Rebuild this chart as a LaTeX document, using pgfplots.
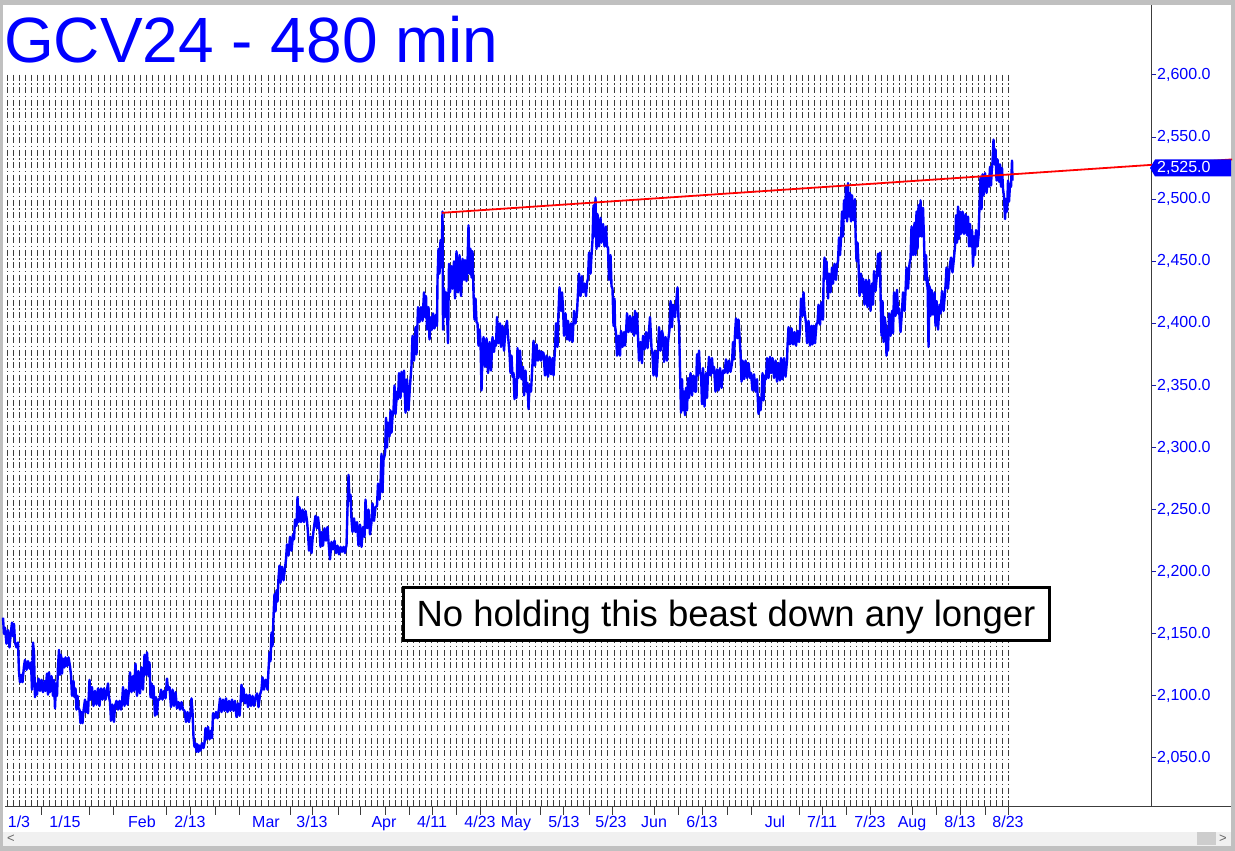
\documentclass[border=0pt]{standalone}
\usepackage{pgfplots}
\pgfplotsset{compat=1.18}
\usepackage{fontspec}
\setmainfont{Liberation Sans}
\definecolor{chartblue}{RGB}{0,0,255}
\definecolor{gridgray}{RGB}{60,60,60}
\definecolor{framegray}{RGB}{192,192,192}
\definecolor{scrollgray}{RGB}{240,240,240}
\definecolor{trendred}{RGB}{255,0,0}
\begin{document}
\begin{tikzpicture}[x=1bp,y=1bp]
\useasboundingbox (0,0) rectangle (1235,851);
\fill[framegray] (0,0) rectangle (1235,851);
\fill[white] (3,5) rectangle (1231,846);
\fill[scrollgray] (3,5) rectangle (1231,19);
\node[text=gray!80!black] at (11,12) {\fontsize{13bp}{13bp}\selectfont <};
\fill[framegray!80] (1197,6) rectangle (1216,19);
\node[text=gray!80!black] at (1223,12) {\fontsize{13bp}{13bp}\selectfont >};
% vertical grid
\foreach \k in {0,...,165} {
  \draw[gridgray, line width=1bp, dash pattern=on 6bp off 2.5bp on 1.5bp off 2.5bp] ({7+6.07*\k},776) -- ({7+6.07*\k},45);
}
% title
\node[anchor=base west, inner sep=0pt, text=chartblue] at (4,788) {\fontsize{64bp}{64bp}\selectfont GCV24 - 480 min};
\begin{axis}[
  at={(5bp,44bp)}, anchor=south west,
  scale only axis, width=1146bp, height=802bp,
  xmin=5, xmax=1151, ymin=2010.54, ymax=2656.37,
  clip=false,
  axis x line*=bottom, axis y line*=right,
  axis line style={draw=gridgray, line width=1bp},
  tick align=outside,
  major tick length=5bp,
  xtick={19,65,142,190,266,312,384,432,480,516,564,611,654,702,775,822,870,912,960,1008},
  xticklabels={1/3,1/15,Feb,2/13,Mar,3/13,Apr,4/11,4/23,May,5/13,5/23,Jun,6/13,Jul,7/11,7/23,Aug,8/13,8/23},
  xtick style={draw=none},
  xticklabel style={text=chartblue, font=\fontsize{16bp}{17bp}\selectfont, anchor=base, yshift=-15.5bp, inner sep=0pt},
  extra x ticks={41,89,113,166,190,215,239,290,312,338,360,385,409,432,456,480,516,540,563,589,612,654,678,702,727,751,799,822,846,870,912,936,960,985,1008},
  extra x tick labels={},
  extra x tick style={major tick length=8bp, xtick style={draw=gridgray, line width=1bp}},
  ytick={2050,2100,2150,2200,2250,2300,2350,2400,2450,2500,2550,2600},
  yticklabels={{2,050.0},{2,100.0},{2,150.0},{2,200.0},{2,250.0},{2,300.0},{2,350.0},{2,400.0},{2,450.0},{2,500.0},{2,550.0},{2,600.0}},
  ytick style={draw=chartblue!60!gridgray, line width=1bp},
  yticklabel style={text=chartblue, font=\fontsize{16bp}{17bp}\selectfont, anchor=west, inner sep=0pt, xshift=1bp},
]
\addplot[chartblue, line width=2.4bp, line join=round, mark=none] coordinates {
(3,2163)(4,2150)(5,2155)(6.5,2142)(8,2153)(9.5,2139)(11,2152)(12,2159)(13,2148)(14,2158)(15,2143)(16.5,2139)(18,2143)(19,2119)(20,2111)(21.5,2117)(22.5,2111)(24,2124)(25,2129)(26.5,2121)(28,2128)(29.5,2122)(31,2127)(32,2105)(33,2143)(34,2135)(35,2099)(36,2110)(37,2101)(38.5,2114)(40,2104)(41.5,2113)(43,2103)(44.5,2112)(45.5,2104)(47,2118)(48,2101)(49,2119)(50,2103)(51.5,2116)(53,2100)(54,2113)(55,2090)(56,2110)(57,2100)(58,2124)(59,2137)(60,2117)(61,2133)(62,2118)(63,2130)(64.5,2123)(65.5,2131)(67,2124)(68.5,2131)(70,2124)(71,2117)(72,2100)(73.5,2112)(74.5,2099)(75.5,2106)(76.5,2089)(77.5,2100)(78.5,2090)(79.5,2089)(80.5,2078)(81.5,2087)(82.5,2078)(83.5,2088)(85,2097)(86,2087)(87,2095)(88,2086)(89.5,2113)(90.5,2097)(92,2107)(93.5,2092)(95,2104)(96.5,2093)(98,2106)(99.5,2092)(101,2106)(102.5,2097)(104,2106)(105.5,2097)(107,2105)(108,2110)(109,2099)(110,2095)(111,2080)(112.5,2093)(114,2079)(115,2092)(116.5,2096)(118,2089)(119.5,2096)(121,2089)(122,2094)(123,2107)(124.5,2092)(126,2105)(127.5,2093)(129,2105)(130,2119)(131.5,2103)(133,2116)(134,2104)(135.5,2126)(137,2100)(138.5,2120)(140,2102)(141.5,2123)(143,2105)(144.5,2133)(146,2117)(147,2135)(148.5,2116)(149.5,2127)(150.5,2099)(151.5,2110)(152.5,2098)(153.5,2108)(155,2084)(156,2099)(157,2085)(158,2097)(159.5,2097)(161,2105)(162.5,2097)(164,2104)(165.5,2098)(167,2114)(168,2105)(169.5,2107)(171,2091)(172.5,2105)(174,2092)(175.5,2103)(177,2090)(178.5,2095)(180,2089)(181.5,2095)(183,2089)(184.5,2088)(186,2079)(187.5,2087)(189,2079)(190.5,2086)(191.5,2098)(192.5,2087)(193.5,2067)(194.5,2059)(195.5,2062)(196.5,2055)(197.5,2061)(198.5,2055)(199.5,2060)(200.5,2056)(202,2062)(203.5,2058)(204.5,2062)(205.5,2074)(206.5,2065)(208,2075)(209.5,2065)(211,2072)(212,2066)(213,2086)(214.5,2082)(216,2087)(217.5,2082)(219,2090)(220,2098)(221.5,2087)(223,2097)(224.5,2088)(226,2098)(227.5,2087)(229,2096)(230.5,2088)(232,2097)(233.5,2088)(235,2096)(236.5,2083)(238,2094)(239.5,2084)(240.5,2094)(241.5,2109)(242.5,2096)(243.5,2106)(245,2094)(246.5,2101)(248,2091)(249.5,2101)(251,2092)(252.5,2100)(254,2092)(255.5,2099)(257,2102)(258.5,2091)(260,2101)(261.5,2105)(262.5,2115)(264,2105)(265.5,2113)(266.5,2112)(267.5,2105)(268.5,2121)(269.5,2135)(270.5,2128)(271.5,2151)(272.5,2140)(273.5,2164)(274.5,2182)(275.5,2168)(276.5,2185)(277.5,2176)(278.5,2195)(279.5,2205)(280.5,2191)(282,2204)(283.5,2193)(285,2203)(286,2210)(287,2222)(288.5,2213)(290,2228)(291.5,2217)(293,2230)(294,2226)(295,2242)(296.5,2237)(297.5,2260)(298.5,2240)(299.5,2252)(301,2240)(302.5,2250)(304,2240)(305.5,2249)(307,2241)(308,2231)(309,2217)(310.5,2228)(311.5,2215)(312.5,2226)(314,2236)(315.5,2245)(317,2235)(318,2244)(319.5,2233)(320.5,2220)(322,2232)(323,2221)(324.5,2235)(326,2225)(327.5,2236)(328.5,2224)(330,2210)(331.5,2224)(333,2218)(334.5,2225)(336,2215)(337.5,2221)(339,2214)(340.5,2220)(342,2216)(343.5,2220)(345,2215)(346,2220)(346.5,2221)(347.5,2251)(348.5,2278)(349.5,2257)(350.5,2262)(351.5,2242)(352.5,2232)(354,2243)(355.5,2232)(357,2240)(358.5,2221)(360,2238)(361.5,2220)(363,2236)(364.5,2228)(365.5,2258)(367,2235)(368.5,2250)(370,2230)(371.5,2240)(372.5,2255)(374,2241)(375.5,2252)(377,2253)(378,2271)(379.5,2258)(380.5,2270)(381.5,2295)(382.5,2264)(383.5,2290)(385,2295)(386,2324)(387,2300)(388,2320)(389.5,2309)(390.5,2330)(391.5,2312)(392.5,2325)(393.5,2330)(394.5,2350)(395.5,2327)(397,2345)(398,2339)(399,2360)(400.5,2340)(401.5,2361)(403,2345)(404,2362)(405.5,2328)(407,2355)(408.5,2330)(410,2350)(411.5,2366)(412.5,2390)(414,2370)(415.5,2397)(416.5,2375)(418,2413)(419.5,2401)(421,2413)(422.5,2402)(424,2425)(425,2405)(426,2422)(427,2395)(428.5,2413)(429.5,2387)(431,2405)(432,2395)(433,2408)(434.5,2396)(436,2407)(437,2398)(437.5,2435)(438.5,2460)(439.5,2440)(440.5,2467)(441.5,2445)(442.5,2490)(443,2395)(444,2428)(445,2405)(446,2425)(447,2410)(448,2384)(449,2448)(450,2425)(451.5,2446)(452.5,2428)(454,2450)(455,2420)(456.5,2458)(458,2425)(459.5,2455)(461,2422)(462.5,2452)(464,2435)(465,2451)(466.5,2434)(467.5,2448)(468.5,2479)(469.5,2440)(470.5,2460)(471.5,2437)(472.5,2458)(473.5,2424)(474.5,2403)(475.5,2420)(476.5,2401)(477.5,2400)(478.5,2382)(479.5,2395)(480.5,2386)(481.5,2346)(482.5,2375)(483.5,2389)(485,2365)(486.5,2388)(488,2360)(489.5,2385)(491,2362)(492.5,2389)(494,2377)(495,2386)(496,2382)(497,2405)(498.5,2384)(500,2400)(501,2381)(502.5,2398)(504,2378)(505.5,2396)(507,2402)(508,2390)(509.5,2376)(510.5,2360)(511.5,2374)(512.5,2357)(513.5,2360)(514.5,2339)(515.5,2355)(516.5,2340)(517.5,2380)(518.5,2356)(520,2378)(521.5,2355)(523,2365)(524,2342)(525.5,2362)(526.5,2345)(527.5,2352)(528.5,2331)(529.5,2350)(531,2345)(532.5,2368)(533.5,2386)(535,2366)(536.5,2383)(538,2370)(539.5,2378)(541,2370)(542,2377)(543.5,2376)(545,2358)(546.5,2374)(548,2357)(549.5,2373)(551,2359)(552.5,2372)(553.5,2358)(555,2380)(556,2400)(557.5,2381)(558.5,2410)(559.5,2429)(561,2410)(562,2425)(563,2413)(564,2390)(565.5,2408)(567,2387)(568,2402)(569.5,2386)(571,2400)(572.5,2385)(574,2410)(575.5,2400)(577,2409)(578,2425)(579,2440)(580.5,2422)(582,2438)(583,2425)(584.5,2432)(586,2422)(587,2433)(588,2436)(589,2457)(590.5,2440)(591.5,2455)(592.5,2467)(593.5,2495)(594.5,2470)(595.5,2501)(596.5,2460)(597.5,2488)(599,2462)(600.5,2485)(601.5,2465)(603,2480)(604.5,2462)(606,2478)(607,2462)(608,2461)(609,2435)(610.5,2455)(611.5,2430)(612.5,2428)(613.5,2398)(614.5,2420)(615,2398)(616,2392)(617,2374)(618.5,2390)(620,2374)(621,2394)(622.5,2381)(624,2393)(625,2382)(626,2392)(627,2408)(628.5,2393)(630,2406)(631.5,2393)(633,2405)(634,2390)(635,2410)(636,2392)(637,2408)(638,2389)(639,2370)(640.5,2385)(642,2368)(643,2390)(644.5,2379)(646,2393)(647.5,2380)(649,2394)(650,2405)(651.5,2380)(652.5,2375)(653.5,2358)(655,2378)(656.5,2357)(658,2378)(659,2397)(660.5,2378)(662,2394)(663,2390)(664,2369)(665.5,2389)(667,2370)(668,2385)(669.5,2395)(670.5,2418)(672,2397)(673,2415)(675,2405)(676.5,2420)(677.5,2429)(678.5,2403)(679,2400)(680,2362)(681,2328)(682,2355)(683,2330)(684,2345)(685,2326)(686,2348)(687,2330)(688,2356)(689,2340)(690.5,2360)(692,2342)(693.5,2358)(695,2345)(696,2345)(697,2375)(698,2358)(699,2378)(700,2360)(701,2360)(702,2335)(703,2364)(704.5,2333)(706,2360)(707,2340)(708,2360)(709,2373)(710.5,2358)(712,2372)(713,2360)(714,2365)(715.5,2345)(717,2363)(718.5,2346)(720,2364)(721.5,2348)(723,2362)(724.5,2360)(726,2371)(727.5,2360)(729,2370)(730.5,2361)(732,2368)(733,2385)(734,2371)(735,2392)(736,2404)(737.5,2388)(738.5,2403)(739.5,2390)(740.5,2376)(741.5,2353)(742.5,2370)(744,2355)(745.5,2370)(747,2356)(748.5,2368)(750,2356)(751,2360)(752.5,2346)(754,2359)(755.5,2345)(757,2355)(757.5,2344)(758.5,2327)(759.5,2340)(760.5,2330)(761.5,2340)(762.5,2360)(763.5,2338)(765,2358)(766,2355)(767,2372)(768.5,2356)(770,2373)(771,2360)(772.5,2372)(774,2356)(775.5,2370)(777,2353)(778.5,2368)(780,2354)(781,2372)(782.5,2355)(784,2372)(785.5,2357)(787,2370)(787.5,2382)(788.5,2397)(790,2383)(791.5,2396)(793,2383)(794.5,2393)(796,2382)(797.5,2394)(799,2385)(800,2395)(801,2420)(802.5,2406)(803.5,2425)(804.5,2410)(806,2400)(807,2384)(808.5,2402)(810,2382)(811.5,2398)(812.5,2383)(813.5,2398)(815,2384)(816.5,2400)(817.5,2400)(818.5,2415)(820,2399)(821.5,2417)(823,2403)(823.5,2433)(824.5,2453)(825.5,2436)(826.5,2450)(828,2420)(829,2440)(830.5,2425)(832,2445)(833,2432)(834.5,2448)(836,2435)(837,2447)(838,2450)(839,2469)(840,2455)(841,2468)(842,2490)(843,2470)(844,2499)(845,2485)(846,2510)(847,2482)(848,2513)(849,2486)(850,2505)(851,2482)(852,2503)(853.5,2483)(855,2500)(855.5,2473)(856.5,2450)(857.5,2465)(858.5,2448)(859.5,2422)(861,2440)(862,2425)(863,2436)(864.5,2415)(866,2435)(867.5,2413)(869,2435)(870.5,2410)(872,2432)(873,2415)(874,2442)(875.5,2426)(877,2440)(878,2456)(879,2438)(880,2457)(880.5,2424)(881.5,2390)(882.5,2418)(883.5,2385)(884.5,2405)(885.5,2400)(886.5,2374)(887.5,2395)(888,2378)(889,2408)(890.5,2390)(892,2410)(893,2392)(894,2425)(895.5,2406)(897,2427)(898,2408)(899,2412)(900.5,2393)(902,2410)(903,2425)(904.5,2410)(905.5,2426)(906.5,2445)(908,2428)(909.5,2448)(910.5,2452)(911.5,2478)(913,2455)(914.5,2481)(915.5,2455)(916.5,2490)(917.5,2460)(918.5,2495)(919.5,2470)(920.5,2499)(921.5,2470)(923,2493)(924,2467)(925,2435)(926,2455)(927,2430)(927.5,2437)(928.5,2381)(929.5,2430)(930.5,2406)(931.5,2427)(933,2407)(934.5,2425)(935.5,2398)(936.5,2418)(938,2395)(939.5,2415)(940.5,2408)(942,2426)(943.5,2410)(945,2425)(945.5,2430)(946.5,2445)(948,2428)(949.5,2445)(951,2453)(952.5,2441)(954,2453)(955,2462)(956,2487)(957,2465)(958,2494)(959,2468)(960,2490)(961,2472)(962.5,2490)(964,2472)(965.5,2488)(967,2471)(968,2486)(969,2462)(970,2480)(971,2462)(972,2475)(973,2446)(974,2470)(975,2455)(976,2475)(977.5,2462)(978.5,2470)(979.5,2495)(980.5,2518)(981.5,2492)(982.5,2520)(983.5,2503)(985,2521)(986.5,2505)(988,2518)(989,2510)(990,2526)(991,2511)(991.5,2520)(992.5,2530)(993.5,2548)(994.5,2528)(995.5,2540)(996.5,2515)(997.5,2532)(999,2514)(1000,2528)(1001,2510)(1002,2525)(1003,2508)(1004,2502)(1005,2484)(1006,2500)(1007,2490)(1008,2515)(1009,2498)(1010,2512)(1011,2510)(1012,2531)(1012.5,2515)
};
\addplot[trendred, line width=1.8bp, mark=none] coordinates {(442,2489) (1232,2532)};
\end{axis}
% last price label
\fill[chartblue] (1150,683) -- (1155,691.5) -- (1231,691.5) -- (1231,674.5) -- (1155,674.5) -- cycle;
\node[anchor=west, inner sep=0pt, text=white] at (1157,683) {\fontsize{16bp}{17bp}\selectfont 2,525.0};
% bottom axis line extension
\draw[gridgray, line width=1bp] (1151,44) -- (1231,44);
% annotation
\draw[black, line width=3bp, fill=white] (403,210) rectangle (1049,263);
\node[anchor=base, inner sep=0pt] at (726,224) {\fontsize{36.5bp}{37bp}\selectfont No holding this beast down any longer};
\end{tikzpicture}
\end{document}
